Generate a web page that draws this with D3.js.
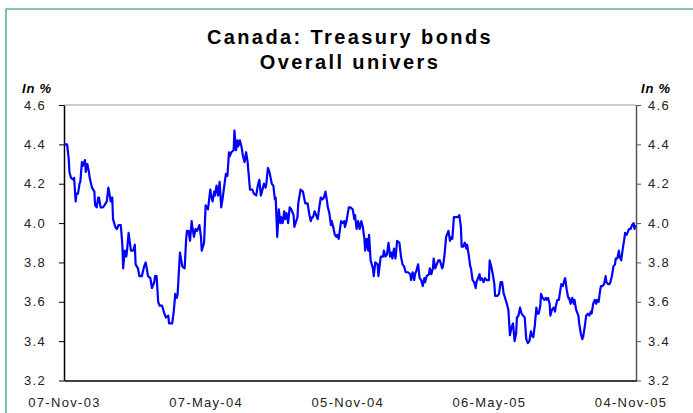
<!DOCTYPE html>
<html><head><meta charset="utf-8">
<script src="https://cdn.jsdelivr.net/npm/d3@7"></script>
<style>
body{margin:0;background:#fff}
svg{display:block}
text{font-family:"Liberation Sans",Arial,sans-serif}
</style>
</head><body>
<svg id="c" width="693" height="413"></svg>
<script>
const titleLines = ["Canada: Treasury bonds", "Overall univers"];
const unitLabel = "In %";
const startDate = "2003-11-07";
const endDate = "2005-11-11";
const xTickLabels = ["07-Nov-03", "07-May-04", "05-Nov-04", "06-May-05", "04-Nov-05"];
const yTicks = [3.2, 3.4, 3.6, 3.8, 4.0, 4.2, 4.4, 4.6];

// days elapsed since startDate for each observation
const dayOffsets = [0,4,6,7,9,12,13,15,16,18,20,21,23,24,27,28,30,32,33,36,39,40,42,44,45,47,50,52,55,57,58,60,62,63,66,68,70,73,75,76,78,80,81,83,85,86,89,91,92,95,97,100,103,105,108,111,113,116,117,119,121,123,126,129,131,134,135,139,141,143,145,146,
149,152,155,157,158,160,162,164,165,167,169,171,174,176,177,180,182,185,188,189,191,193,194,196,198,200,202,204,206,208,210,212,213,215,218,219,221,223,224,226,228,230,232,234,236,237,239,242,244,247,249,251,253,255,257,259,260,262,264,266,267,269,271,272,274,276,278,279,281,283,284,286,288,290,292,295,296,
300,301,304,307,308,310,313,315,317,319,320,322,324,326,328,330,332,334,336,338,339,341,343,344,346,348,350,351,353,356,358,360,361,363,366,368,371,373,374,376,378,380,382,384,386,387,389,391,392,394,397,398,400,403,404,407,410,411,413,415,417,419,421,422,424,426,428,431,433,435,437,439,442,445,446,
448,450,451,453,455,457,459,461,463,464,466,469,470,472,474,475,477,479,481,483,486,487,489,491,493,494,496,498,499,501,504,506,508,510,511,513,515,517,518,520,522,523,525,527,529,530,532,534,535,537,539,541,543,546,547,549,551,553,554,557,559,561,563,565,566,569,571,573,575,577,579,581,582,584,586,588,590,592,594,
596,598,600,601,603,605,607,608,610,612,613,615,617,619,620,622,624,625,627,629,631,632,634,636,637,639,641,643,644,646,648,649,651,653,655,656,658,661,662,664,666,667,669,671,673,675,677,678,680,682,684,685,687,689,690,692,694,696,697,699,701,702,704,706,708,709,711,713,714,716,718,720,721,723,725,726,728,730,732,733,734];

const yieldValues = [4.40,4.40,4.33,4.26,4.23,4.22,4.23,4.11,4.15,4.15,4.20,4.21,4.31,4.29,4.32,4.26,4.30,4.26,4.23,4.18,4.16,4.09,4.08,4.13,4.13,4.08,4.08,4.09,4.11,4.18,4.16,4.11,4.13,4.02,3.98,3.97,3.99,3.99,3.89,3.77,3.86,3.83,3.86,3.95,3.89,3.86,3.86,3.89,3.79,3.77,3.73,3.73,3.78,3.80,3.73,3.72,3.67,3.70,3.73,3.73,3.60,3.58,3.58,3.54,3.52,3.53,3.49,3.49,3.55,3.64,3.62,3.64,
3.85,3.78,3.77,3.92,3.96,3.96,3.91,4.01,3.98,3.93,3.97,3.96,3.99,3.93,3.86,3.90,4.09,4.07,4.17,4.14,4.11,4.16,4.14,4.19,4.14,4.21,4.08,4.13,4.19,4.25,4.24,4.36,4.34,4.36,4.37,4.47,4.37,4.42,4.39,4.42,4.39,4.34,4.31,4.36,4.31,4.26,4.17,4.17,4.15,4.14,4.19,4.22,4.14,4.17,4.20,4.18,4.20,4.28,4.26,4.22,4.20,4.19,4.12,4.13,3.93,4.07,4.00,4.03,4.00,4.06,4.02,4.05,4.00,4.08,4.07,4.04,3.98,
4.03,4.10,4.17,4.16,4.14,4.10,4.10,4.05,4.01,4.03,4.03,4.06,4.04,4.02,4.08,4.13,4.12,4.13,4.16,4.11,4.08,4.05,3.99,4.01,3.98,3.94,3.93,3.94,3.92,4.01,4.00,4.01,3.98,4.01,4.08,4.08,4.07,4.02,4.04,3.97,4.01,3.97,4.01,3.98,3.92,3.86,3.92,3.86,3.94,3.81,3.77,3.73,3.80,3.79,3.73,3.83,3.83,3.86,3.83,3.84,3.90,3.83,3.85,3.82,3.87,3.82,3.91,3.90,3.83,3.79,3.78,3.75,3.75,3.74,3.71,
3.75,3.71,3.74,3.76,3.79,3.72,3.71,3.68,3.72,3.70,3.73,3.74,3.77,3.74,3.77,3.82,3.77,3.79,3.81,3.81,3.77,3.78,3.84,3.93,3.95,3.96,3.91,3.93,3.92,4.03,4.03,4.03,4.04,3.98,3.88,3.88,3.90,3.87,3.89,3.84,3.78,3.77,3.71,3.70,3.67,3.70,3.72,3.74,3.71,3.72,3.70,3.72,3.71,3.71,3.81,3.78,3.74,3.69,3.63,3.63,3.64,3.70,3.70,3.64,3.63,3.59,3.56,3.43,3.47,3.49,3.40,3.44,3.52,3.53,3.57,3.54,3.53,3.52,3.41,
3.39,3.40,3.45,3.43,3.42,3.48,3.57,3.54,3.54,3.58,3.64,3.62,3.61,3.62,3.61,3.62,3.59,3.53,3.56,3.57,3.55,3.58,3.61,3.61,3.64,3.69,3.68,3.71,3.72,3.66,3.62,3.62,3.59,3.62,3.59,3.61,3.56,3.53,3.49,3.44,3.41,3.42,3.47,3.53,3.54,3.53,3.55,3.54,3.59,3.61,3.59,3.61,3.60,3.66,3.68,3.68,3.69,3.73,3.70,3.69,3.69,3.70,3.73,3.78,3.79,3.82,3.82,3.86,3.83,3.81,3.87,3.92,3.95,3.94,3.96,3.97,3.97,3.99,4.00,3.97,3.99];

const svg = d3.select("#c");
const parseISO = d3.timeParse("%Y-%m-%d");
const parseLabel = d3.timeParse("%d-%b-%y");
const t0 = parseISO(startDate);
const data = dayOffsets.map((d, i) => ({date: d3.timeDay.offset(t0, d), value: yieldValues[i]}));

const L = 64, R = 636, T = 105, B = 380.5;
const x = d3.scaleTime().domain([t0, parseISO(endDate)]).range([L, R]);
const y = d3.scaleLinear().domain([yTicks[0], yTicks[yTicks.length - 1]]).range([B, T]);

// outer frame
svg.append("path").attr("d", "M6,413 V9 H693")
  .attr("fill", "none").attr("stroke", "#63b584").attr("stroke-width", 1.6);

// title
svg.append("g").selectAll("text").data(titleLines).join("text")
  .attr("x", 350).attr("y", (d, i) => 44 + i * 25)
  .attr("text-anchor", "middle").attr("font-size", 20).attr("font-weight", "bold")
  .attr("letter-spacing", "2.4px").attr("fill", "#000").text(d => d);

// unit labels
svg.append("text").attr("x", 22).attr("y", 93).attr("font-size", 13)
  .attr("font-weight", "bold").attr("font-style", "italic").attr("letter-spacing", "0.8px").text(unitLabel);
svg.append("text").attr("x", 641).attr("y", 93).attr("font-size", 13)
  .attr("font-weight", "bold").attr("font-style", "italic").attr("letter-spacing", "0.8px").text(unitLabel);

// top border of plot
svg.append("line").attr("x1", L).attr("x2", R).attr("y1", T).attr("y2", T)
  .attr("stroke", "#999").attr("stroke-width", 1);

const fmt = d3.format(".1f");
const styleAxis = (g, col) => {
  g.selectAll("text").attr("font-size", 13).attr("fill", "#222").attr("letter-spacing", "1.3px");
  g.select(".domain").attr("stroke", col).attr("stroke-width", 1.5);
  g.selectAll(".tick line").attr("stroke", col);
};

svg.append("g").attr("transform", `translate(${L},0)`)
  .call(d3.axisLeft(y).tickValues(yTicks).tickFormat(fmt).tickSize(5).tickSizeOuter(0).tickPadding(13))
  .call(g => styleAxis(g, "#000"))
  .call(g => g.attr("font-family", null));

svg.append("g").attr("transform", `translate(${R},0)`)
  .call(d3.axisRight(y).tickValues(yTicks).tickFormat(fmt).tickSize(5).tickSizeOuter(0).tickPadding(7))
  .call(g => styleAxis(g, "#555"))
  .call(g => g.attr("font-family", null));

svg.append("g").attr("transform", `translate(0,${B})`)
  .call(d3.axisBottom(x).tickValues(xTickLabels.map(parseLabel)).tickFormat((d, i) => xTickLabels[i])
    .tickSize(0).tickSizeOuter(0).tickPadding(17))
  .call(g => styleAxis(g, "#000"))
  .call(g => g.attr("font-family", null));

// series line
svg.append("path").datum(data)
  .attr("fill", "none").attr("stroke", "#0000ff").attr("stroke-width", 2.2)
  .attr("stroke-linejoin", "round")
  .attr("d", d3.line().x(d => x(d.date)).y(d => y(d.value)));
</script>
</body></html>
